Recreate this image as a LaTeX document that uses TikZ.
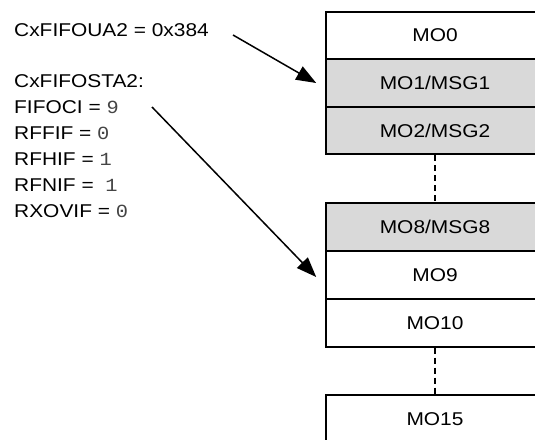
\documentclass[tikz,border=0pt]{standalone}
\usepackage{fontspec}
\setmainfont{Liberation Sans}[FakeStretch=1.13]
\newfontfamily\monofnt{Liberation Mono}[FakeStretch=1.1]
\usetikzlibrary{arrows.meta}
\definecolor{cellgray}{HTML}{D9D9D9}
\definecolor{digitgray}{HTML}{444444}
\newcommand{\dg}[1]{{\monofnt\color{digitgray}#1}}
\begin{document}
\begin{tikzpicture}[x=1pt,y=-1pt,
  cell/.style={draw=black,line width=1.6pt,minimum width=218pt,minimum height=47.5pt,inner sep=0pt,
    font=\fontsize{18.5}{20}\selectfont},
  shaded/.style={cell,fill=cellgray},
  plain/.style={cell,fill=white},
  lbl/.style={anchor=base west,inner sep=0pt,font=\fontsize{18.5}{20}\selectfont},
  arr/.style={line width=1.5pt,-{Triangle[length=20pt,width=15pt]}},
  dashline/.style={line width=1.4pt,dash pattern=on 6pt off 4pt}]
\useasboundingbox (0,0) rectangle (535,439);
\clip (0,0) rectangle (535,439);
\fill[white] (0,0) rectangle (535,439);
% memory cells
\node[plain]  (mo0)  at (435,35.5) {MO0};
\node[shaded] (mo1)  at (435,83)   {MO1/MSG1};
\node[shaded] (mo2)  at (435,130.5){MO2/MSG2};
\node[shaded] (mo8)  at (435,227)  {MO8/MSG8};
\node[plain]  (mo9)  at (435,275)  {MO9};
\node[plain]  (mo10) at (435,323)  {MO10};
\node[plain]  (mo15) at (435,419)  {MO15};
\draw[dashline] (mo2.south) -- (mo8.north);
\draw[dashline] (mo10.south) -- (mo15.north);
% labels
\node[lbl] (ua)  at (14,36.7)  {CxFIFOUA2 = 0x384};
\node[lbl] (sta) at (14,87.3)  {CxFIFOSTA2:};
\node[lbl] (fo)  at (14,113.3) {FIFOCI = \dg{9}};
\node[lbl] (ff)  at (14,139.3) {RFFIF = \dg{0}};
\node[lbl] (fh)  at (14,165.7) {RFHIF = \dg{1}};
\node[lbl] (fn)  at (14,191.7) {RFNIF = \ \dg{1}};
\node[lbl] (xo)  at (14,217.3) {RXOVIF = \dg{0}};
% arrows
\coordinate (a1) at (233,35);
\coordinate (a2) at (152,107);
\coordinate (t1) at ([xshift=-9pt]mo1.west);
\coordinate (t2) at ([xshift=-9pt,yshift=-2pt]mo9.west);
\draw[arr] (a1) -- (t1);
\draw[arr] (a2) -- (t2);
\end{tikzpicture}
\end{document}
